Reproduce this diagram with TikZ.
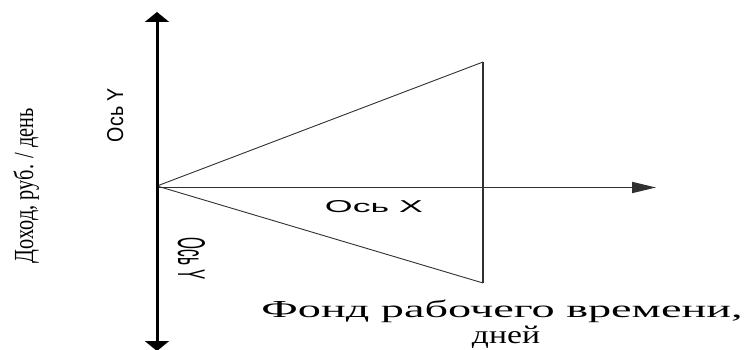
\documentclass[tikz,border=0pt]{standalone}
\usepackage{fontspec}
\setmainfont{Liberation Serif}
\setsansfont{Liberation Sans}
\usetikzlibrary{arrows.meta}
\definecolor{linegray}{HTML}{303030}
\newcommand{\xhbox}[3]{\resizebox{#1}{#2}{\smash{#3}\vphantom{оно}}}
\tikzset{
  yaxis/.style={line width=3pt, black, {Triangle[length=10pt,width=24pt]}-{Triangle[length=10pt,width=24pt]}},
  xaxis/.style={line width=1.8pt, linegray, -{Triangle[length=24pt,width=11pt]}},
  thinline/.style={line width=0.9pt, linegray},
  vline/.style={line width=1.4pt, linegray},
  lbl/.style={inner sep=0pt, anchor=base}
}
\begin{document}
\begin{tikzpicture}[x=1pt,y=-1pt]
\useasboundingbox (0,0) rectangle (745,350);
% coordinates
\coordinate (O) at (157,186);
\coordinate (ytop) at (157,12);
\coordinate (ybot) at (157,351);
\coordinate (xo) at (157,187.5);
\coordinate (xtip) at (656,187.5);
\coordinate (A) at (483,62);
\coordinate (B) at (483,283);
% triangle
\draw[thinline] (O) -- (A);
\draw[thinline] (O) -- (B);
\draw[vline] (A) -- (B);
% axes
\draw[xaxis] (xo) -- (xtip);
\draw[yaxis] (ybot) -- (ytop);
% labels
\node[lbl, rotate=90] (ylab) at (33,185.5) {\xhbox{155pt}{13pt}{Доход, руб. / день}};
\node[lbl, rotate=90] (oy1) at (123,115) {\resizebox{54pt}{16pt}{\sffamily Ось Y}};
\node[lbl, rotate=-90] (oy2) at (178,259) {\resizebox{42pt}{27pt}{\sffamily Ось Y}};
\node[lbl] (ox) at (374,213) {\resizebox{98pt}{12pt}{\sffamily Ось X}};
\node[lbl] (f1) at (502,317) {\xhbox{481pt}{11.5pt}{Фонд рабочего времени,}};
\node[lbl] (f2) at (506,343) {\xhbox{68pt}{12pt}{дней}};
\end{tikzpicture}
\end{document}
